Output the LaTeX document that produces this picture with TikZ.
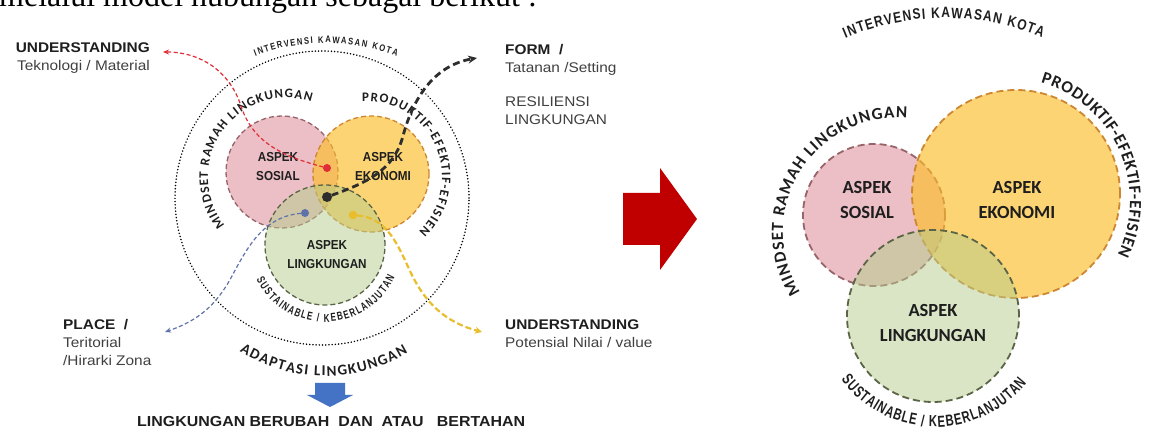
\documentclass[tikz,border=0pt]{standalone}
\usepackage{fontspec}
\setmainfont{Liberation Sans}
\newfontfamily\labf[FakeStretch=1.1]{Liberation Sans}
\newfontfamily\condf[FakeStretch=0.8]{Liberation Sans}
\newfontfamily\narrf[FakeStretch=0.7]{Liberation Sans}
\newfontfamily\aspf[FakeStretch=0.9]{Liberation Sans}
\newfontfamily\carlf{Carlito}
\newfontfamily\serf{Liberation Serif}
\usetikzlibrary{arrows.meta,decorations.text}

\definecolor{pinkfill}{RGB}{220,140,150}
\definecolor{pinkline}{RGB}{150,100,105}
\definecolor{yelfill}{RGB}{253,190,40}
\definecolor{yelline}{RGB}{205,135,50}
\definecolor{grnfill}{RGB}{180,205,140}
\definecolor{grnline}{RGB}{90,100,70}
\definecolor{txtdark}{RGB}{30,30,30}
\definecolor{txtgray}{RGB}{64,64,64}
\definecolor{redline}{RGB}{225,45,55}
\definecolor{blueline}{RGB}{95,115,170}
\definecolor{yelconn}{RGB}{232,190,45}
\definecolor{blkconn}{RGB}{45,45,45}
\definecolor{bigred}{RGB}{192,0,0}
\definecolor{bigblue}{RGB}{68,114,196}

\begin{document}
\begin{tikzpicture}[x=1pt,y=1pt,
  venn/.style={circle, inner sep=0pt, outer sep=0pt},
  ldash/.style={line width=1.3pt, dash pattern=on 5pt off 3pt},
  rdash/.style={line width=1.8pt, dash pattern=on 7pt off 4pt},
  pinkc/.style={venn, fill=pinkfill, fill opacity=0.55, draw=pinkline},
  yelc/.style={venn, fill=yelfill, fill opacity=0.65, draw=yelline},
  grnc/.style={venn, fill=grnfill, fill opacity=0.5, draw=grnline},
  dotring/.style={circle, inner sep=0pt, draw=black, line width=1.7pt, line cap=round, dash pattern=on 0.01pt off 3.2pt},
  dotn/.style={circle, inner sep=0pt, outer sep=0pt},
  curvetext/.style={decorate, decoration={text along path, text align={fit to path}, text={#1}}},
  ttl/.style={font=\labf\bfseries\fontsize{14}{16}\selectfont, text=txtdark, inner sep=0pt},
  sub/.style={font=\labf\fontsize{14}{16}\selectfont, text=txtgray, inner sep=0pt},
  aspL/.style={font=\aspf\bfseries\fontsize{13}{19}\selectfont, text=txtdark, align=center, inner sep=0pt},
  aspR/.style={font=\carlf\bfseries\fontsize{18.5}{25}\selectfont, text=txtdark, align=center, inner sep=0pt},
  redconn/.style={draw=redline, line width=1.2pt, dash pattern=on 4pt off 2.5pt, -{Stealth[length=6pt,width=5pt]}},
  blueconn/.style={draw=blueline, line width=1.2pt, dash pattern=on 4pt off 2.5pt, -{Stealth[length=6pt,width=5pt]}},
  blkconn/.style={draw=blkconn, line width=2.8pt, dash pattern=on 7pt off 4pt, -{Stealth[length=9pt,width=8pt]}},
  yelconn/.style={draw=yelconn, line width=2.2pt, dash pattern=on 6pt off 3pt, -{Stealth[length=7pt,width=7pt]}}
]
\fill[white] (0,0) rectangle (1157,431);
\useasboundingbox (0,0) rectangle (1157,431);

% cut intro text
\node[anchor=base west, inner sep=0pt, font=\serf\fontsize{32}{36}\selectfont, text=black] (intro) at (-1,424) {melalui model hubungan sebagai berikut :};

% ---------------- LEFT DIAGRAM ----------------
\node[dotring, minimum size=294pt] (outer) at (322,233) {};

\node[pinkc, ldash, minimum size=112pt] (lpink) at (282,259) {};
\node[yelc, ldash, minimum size=116pt] (lyel) at (371,257) {};
\node[grnc, ldash, minimum size=120pt] (lgrn) at (325,186) {};

\coordinate (cIntL) at (326,191);
\coordinate (cMinL) at (287,254);
\coordinate (cProL) at (366,254);
\coordinate (cSusL) at (325,186);
\coordinate (cAdaL) at (325,216);

\path[curvetext={|\color{txtdark}\condf\bfseries\fontsize{9.5}{9.5}\selectfont|INTERVENSI KAWASAN KOTA}]
  (cIntL) ++(111:197pt) arc[start angle=111, end angle=69, radius=197pt];
\path[curvetext={|\color{txtdark}\carlf\bfseries\fontsize{13}{13}\selectfont|MINDSET RAMAH LINGKUNGAN}]
  (cMinL) ++(218:79pt) arc[start angle=218, end angle=72, radius=79pt];
\path[curvetext={|\color{txtdark}\carlf\bfseries\fontsize{13}{13}\selectfont|PRODUKTIF-EFEKTIF-EFISIEN}]
  (cProL) ++(93:76pt) arc[start angle=93, end angle=-46, radius=76pt];
\path[curvetext={|\color{txtdark}\narrf\bfseries\fontsize{11.5}{11.5}\selectfont|SUSTAINABLE / KEBERLANJUTAN}]
  (cSusL) ++(207:77pt) arc[start angle=207, end angle=335, radius=77pt];
\path[curvetext={|\color{txtdark}\carlf\bfseries\fontsize{15}{15}\selectfont|ADAPTASI LINGKUNGAN}]
  (cAdaL) ++(238:161pt) arc[start angle=238, end angle=301, radius=161pt];

\node[aspL] (lsos) at (278,264) {ASPEK\\SOSIAL};
\node[aspL] (leko) at (383,264) {ASPEK\\EKONOMI};
\node[aspL] (lling) at (327,176) {ASPEK\\LINGKUNGAN};

% dots
\node[dotn, fill=redline, minimum size=8pt] (reddot) at (327,263) {};
\node[dotn, fill=blkconn, minimum size=10pt] (blkdot) at (327,234) {};
\node[dotn, fill=blueline, minimum size=8pt] (bluedot) at (305,218) {};
\node[dotn, fill=yelconn, minimum size=8.5pt] (yeldot) at (353,216) {};

\coordinate (redtip) at (163,379);
\coordinate (redmid) at (241,325);
\coordinate (blktip) at (477,373);
\coordinate (blkmid) at (403,295);
\coordinate (bluetip) at (165,99);
\coordinate (bluemid) at (232,155);
\coordinate (yeltip) at (482,99);
\coordinate (yelmid) at (410,160);

\draw[redconn] (reddot) to[out=165,in=-72] (redmid) to[out=108,in=0] (redtip);
\draw[blkconn] (blkdot) to[out=20,in=255] (blkmid) to[out=75,in=190] (blktip);
\draw[blueconn] (bluedot) to[out=185,in=62] (bluemid) to[out=242,in=19] (bluetip);
\draw[yelconn] (yeldot) to[out=-5,in=115] (yelmid) to[out=-65,in=165] (yeltip);

% side labels
\node[ttl, anchor=base east] (und1) at (150,378) {UNDERSTANDING};
\node[sub, anchor=base east] (und1s) at (150,360) {Teknologi / Material};
\node[ttl, anchor=base west] (form) at (505,376) {FORM\ \ /};
\node[sub, anchor=base west] (forms) at (505,358) {Tatanan /Setting};
\node[sub, anchor=base west] (resil) at (505,324) {RESILIENSI};
\node[sub, anchor=base west] (resil2) at (505,306) {LINGKUNGAN};
\node[ttl, anchor=base west] (place) at (63,101) {PLACE\ \ /};
\node[sub, anchor=base west] (places) at (63,83) {Teritorial};
\node[sub, anchor=base west] (places2) at (63,65.5) {/Hirarki Zona};
\node[ttl, anchor=base west] (und2) at (505,101) {UNDERSTANDING};
\node[sub, anchor=base west] (und2s) at (505,83) {Potensial Nilai / value};

% bottom
\fill[bigblue] (315,48) -- (345,48) -- (345,36) -- (353,36) -- (330,24) -- (307,36) -- (315,36) -- cycle;
\node[anchor=base west, inner sep=0pt, font=\labf\bfseries\fontsize{14.5}{16}\selectfont, text=txtdark] (result) at (137,4) {LINGKUNGAN BERUBAH\ \ DAN\ \ ATAU\ \ \ BERTAHAN};

% ---------------- BIG RED ARROW ----------------
\fill[bigred] (623,238) -- (660,238) -- (660,263) -- (697,212) -- (660,161) -- (660,186) -- (623,186) -- cycle;

% ---------------- RIGHT DIAGRAM ----------------
\node[pinkc, rdash, minimum size=142pt] (rpink) at (874,216) {};
\node[yelc, rdash, minimum size=208pt] (ryel) at (1016,237) {};
\node[grnc, rdash, minimum size=172pt] (rgrn) at (933,115) {};

\node[aspR] (rsos) at (867,231) {ASPEK\\SOSIAL};
\node[aspR] (reko) at (1017,231) {ASPEK\\EKONOMI};
\node[aspR] (rling) at (933,108) {ASPEK\\LINGKUNGAN};

\coordinate (cIntR) at (945,158);
\coordinate (cMinR) at (897,199);
\coordinate (cProR) at (1007,230);
\coordinate (cSusR) at (935,121);

\path[curvetext={|\color{txtdark}\condf\bfseries\fontsize{15}{15}\selectfont|INTERVENSI KAWASAN KOTA}]
  (cIntR) ++(113:255pt) arc[start angle=113, end angle=67.6, radius=255pt];
\path[curvetext={|\color{txtdark}\carlf\bfseries\fontsize{17}{17}\selectfont|MINDSET RAMAH LINGKUNGAN}]
  (cMinR) ++(212:114pt) arc[start angle=212, end angle=85, radius=114pt];
\path[curvetext={|\color{txtdark}\carlf\bfseries\fontsize{17}{17}\selectfont|PRODUKTIF-EFEKTIF-EFISIEN}]
  (cProR) ++(74:123pt) arc[start angle=74, end angle=-26, radius=123pt];
\path[curvetext={|\color{txtdark}\narrf\bfseries\fontsize{16}{16}\selectfont|SUSTAINABLE / KEBERLANJUTAN}]
  (cSusR) ++(216.6:117pt) arc[start angle=216.6, end angle=321.5, radius=117pt];
\end{tikzpicture}
\end{document}
